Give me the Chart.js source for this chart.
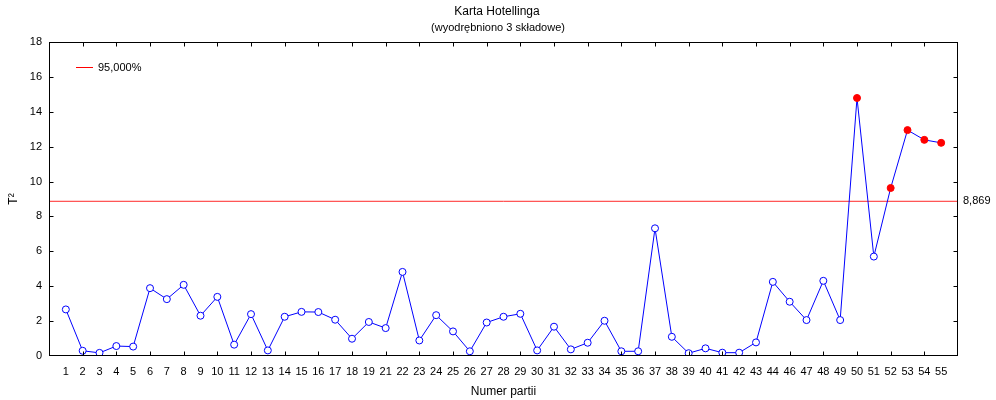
<!DOCTYPE html>
<html><head><meta charset="utf-8">
<script src="https://cdn.jsdelivr.net/npm/chart.js@4"></script>
<style>html,body{margin:0;padding:0;background:#fff}canvas{display:block}</style>
</head><body>
<canvas id="c" width="996" height="400"></canvas>
<script>
const categories = ['1','2','3','4','5','6','7','8','9','10','11','12','13','14','15','16','17','18','19',
  '21','22','23','24','25','26','27','28','29','30','31','32','33','34','35','36','37','38','39','40','41','42','43','44',
  '46','47','48','49','50','51','52','53','54','55'];
const t2Values = [2.67,0.30,0.18,0.57,0.54,3.89,3.26,4.08,2.31,3.39,0.65,2.40,0.32,2.25,2.53,2.52,2.08,0.99,1.95,
  1.60,4.82,0.89,2.34,1.41,0.27,1.92,2.25,2.42,0.32,1.68,0.38,0.76,2.02,0.27,0.27,7.32,1.10,0.16,0.44,0.19,0.19,0.78,4.25,
  3.11,2.06,4.31,2.06,14.79,5.70,9.63,12.95,12.39,12.22];
const controlLimit = 8.869;
const limitLegend = '95,000%';
const limitText = '8,869';
const yMin = 0, yMax = 18, yStep = 2;
const titleText = 'Karta Hotellinga';
const subtitleText = '(wyodrębniono 3 składowe)';
const xTitle = 'Numer partii';
const yTitle = 'T²';

const FONT = '"Liberation Sans", Arial, sans-serif';
Chart.defaults.font.family = FONT;
Chart.defaults.color = '#000';

const xMax = categories.length + 1;
const pointData = t2Values.map((v, i) => ({x: i + 1, y: v}));
const limitData = [{x: 0, y: controlLimit}, {x: xMax, y: controlLimit}];

const decor = {
  id: 'decor',
  afterDatasetsDraw(chart) {
    const ctx = chart.ctx, a = chart.chartArea;
    const xs = chart.scales.x, ys = chart.scales.y;
    const L = Math.round(a.left) + 0.5, R = Math.round(a.right) - 0.5;
    const T = Math.round(a.top) + 0.5, B = Math.round(a.bottom) - 0.5;
    ctx.save();
    // frame
    ctx.strokeStyle = '#000';
    ctx.lineWidth = 1;
    ctx.strokeRect(L, T, R - L, B - T);
    // tick marks, inward
    ctx.beginPath();
    ys.ticks.forEach(t => {
      const y = Math.round(ys.getPixelForValue(t.value)) + 0.5;
      if (y <= T || y >= B) return;
      ctx.moveTo(L, y); ctx.lineTo(L + 4, y);
      ctx.moveTo(R, y); ctx.lineTo(R - 4, y);
    });
    xs.ticks.forEach(t => {
      if (t.value % 2 !== 0) return;
      const x = Math.round(xs.getPixelForValue(t.value)) + 0.5;
      if (x <= L || x >= R) return;
      ctx.moveTo(x, B); ctx.lineTo(x, B - 4);
      ctx.moveTo(x, T); ctx.lineTo(x, T + 4);
    });
    ctx.stroke();
    // titles
    ctx.fillStyle = '#000';
    ctx.textAlign = 'center';
    ctx.textBaseline = 'middle';
    ctx.font = '12px ' + FONT;
    ctx.fillText(titleText, 497, 12);
    ctx.font = '11px ' + FONT;
    ctx.fillText(subtitleText, 498, 27.5);
    ctx.font = '12px ' + FONT;
    ctx.fillText(xTitle, (a.left + a.right) / 2, 392);
    ctx.save();
    ctx.translate(14, (a.top + a.bottom) / 2);
    ctx.rotate(-Math.PI / 2);
    ctx.fillText(yTitle, 0, 0);
    ctx.restore();
    // limit value label
    ctx.font = '11px ' + FONT;
    ctx.textAlign = 'left';
    ctx.fillText(limitText, a.right + 5, ys.getPixelForValue(controlLimit));
    // legend
    ctx.strokeStyle = 'rgb(255,0,0)';
    ctx.beginPath();
    ctx.moveTo(76, 67.5); ctx.lineTo(93, 67.5);
    ctx.stroke();
    ctx.fillText(chart.data.datasets[1].label, 98, 67.5);
    ctx.restore();
  }
};

new Chart(document.getElementById('c'), {
  type: 'line',
  data: {
    datasets: [
      {
        label: 'T2',
        data: pointData,
        borderColor: 'rgb(0,0,255)',
        borderWidth: 1,
        tension: 0,
        pointRadius: 3.5,
        pointHoverRadius: 3.5,
        pointBorderWidth: 1,
        pointStyle: 'circle',
        pointBorderColor: c => (c.raw && c.raw.y > controlLimit) ? 'rgb(255,0,0)' : 'rgb(0,0,255)',
        pointBackgroundColor: c => (c.raw && c.raw.y > controlLimit) ? 'rgb(255,0,0)' : '#fff',
        order: 1
      },
      {
        label: limitLegend,
        data: limitData,
        borderColor: 'rgb(255,40,40)',
        borderWidth: 1,
        pointRadius: 0,
        order: 2
      }
    ]
  },
  options: {
    responsive: false,
    animation: false,
    devicePixelRatio: 1,
    layout: {padding: {top: 42, left: 0, right: 0, bottom: 0}},
    plugins: {legend: {display: false}, tooltip: {enabled: false}, title: {display: false}},
    scales: {
      x: {
        type: 'linear', position: 'bottom', min: 0, max: xMax,
        afterFit: s => { s.height = 44; },
        grid: {display: false, drawTicks: false},
        border: {display: false},
        ticks: {
          stepSize: 1, autoSkip: false, maxRotation: 0, minRotation: 0, padding: 9,
          font: {size: 11},
          callback: v => (v >= 1 && v <= categories.length) ? categories[v - 1] : ''
        }
      },
      xTop: {
        type: 'linear', position: 'top', min: 0, max: xMax,
        afterFit: s => { s.height = 0; },
        grid: {display: false, drawTicks: false},
        border: {display: false},
        ticks: {display: false, stepSize: 2}
      },
      y: {
        type: 'linear', position: 'left', min: yMin, max: yMax,
        afterFit: s => { s.width = 49; },
        grid: {display: false, drawTicks: false},
        border: {display: false},
        ticks: {stepSize: yStep, padding: 7, font: {size: 11}}
      },
      yRight: {
        type: 'linear', position: 'right', min: yMin, max: yMax,
        afterFit: s => { s.width = 38; },
        grid: {display: false, drawTicks: false},
        border: {display: false},
        ticks: {display: false, stepSize: yStep}
      }
    }
  },
  plugins: [decor]
});
</script>
</body></html>
